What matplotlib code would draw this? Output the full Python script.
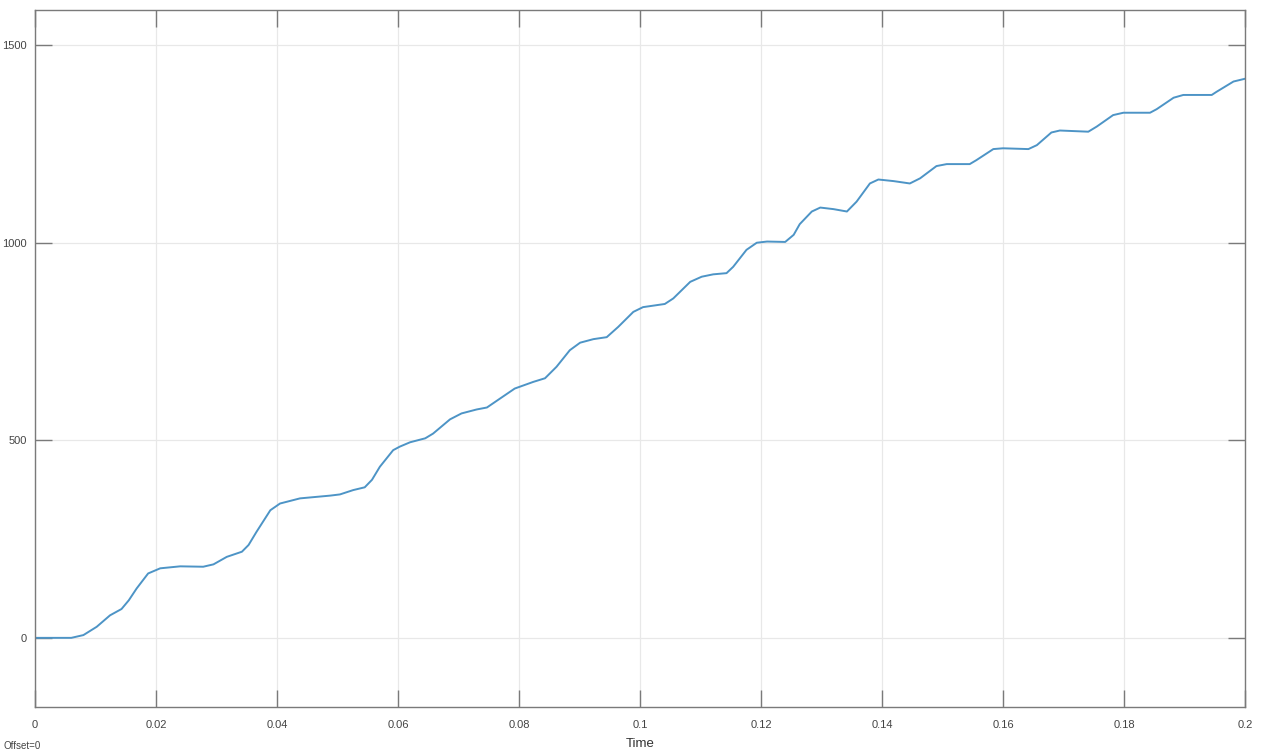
import matplotlib
matplotlib.use("Agg")
from matplotlib import pyplot as plt

# values
time = [0.0, 0.006, 0.008, 0.0102, 0.0124, 0.0143, 0.0155, 0.0168, 0.0187, 0.0207,
        0.024, 0.0278, 0.0295, 0.0317, 0.0342, 0.0353, 0.0366, 0.0389, 0.0405, 0.0438,
        0.0488, 0.0504, 0.0526, 0.0545, 0.0557, 0.057, 0.0592, 0.0603, 0.062, 0.0645,
        0.0658, 0.0686, 0.0705, 0.073, 0.0747, 0.0769, 0.0793, 0.0824, 0.0843, 0.0862,
        0.0884, 0.0901, 0.0923, 0.0945, 0.0964, 0.0989, 0.1005, 0.1041, 0.1055, 0.1083,
        0.1102, 0.1121, 0.1143, 0.1154, 0.1176, 0.1193, 0.121, 0.124, 0.1254, 0.1264,
        0.1284, 0.1298, 0.132, 0.1342, 0.1358, 0.138, 0.1394, 0.1419, 0.1446, 0.1463,
        0.149, 0.1507, 0.1545, 0.1556, 0.1584, 0.16, 0.1642, 0.1656, 0.168, 0.1694,
        0.1741, 0.1755, 0.1782, 0.1799, 0.1843, 0.1854, 0.1882, 0.1898, 0.1945, 0.1953,
        0.1981, 0.2]
value = [0, 0, 7, 28, 57, 73, 95, 125, 163, 176,
         181, 180, 186, 205, 218, 235, 268, 323, 340, 353,
         360, 363, 374, 381, 400, 433, 475, 484, 495, 505,
         517, 553, 568, 578, 583, 606, 631, 648, 657, 686,
         728, 747, 756, 761, 787, 825, 837, 845, 859, 901,
         914, 920, 923, 939, 982, 1000, 1003, 1002, 1020, 1047,
         1079, 1089, 1085, 1079, 1104, 1150, 1160, 1156, 1150, 1163,
         1194, 1199, 1199, 1209, 1237, 1239, 1237, 1247, 1279, 1284,
         1281, 1294, 1323, 1329, 1329, 1338, 1367, 1374, 1374, 1382,
         1408, 1415]

xticks = [0, 0.02, 0.04, 0.06, 0.08, 0.1, 0.12, 0.14, 0.16, 0.18, 0.2]
xticklabels = ['0', '0.02', '0.04', '0.06', '0.08', '0.1', '0.12', '0.14', '0.16', '0.18', '0.2']
yticks = [0, 500, 1000, 1500]

plt.rcParams['font.family'] = ['Liberation Sans', 'DejaVu Sans']

fig = plt.figure(figsize=(12.63, 7.52), dpi=100)
ax = fig.add_axes([35 / 1263, 45 / 752, 1210 / 1263, 697 / 752])

ax.plot(time, value, color='#4d94c6', linewidth=1.4, solid_joinstyle='round')

ax.set_xlim(0, 0.2)
ax.set_ylim(-175, 1589)
ax.set_xticks(xticks)
ax.set_xticklabels(xticklabels)
ax.set_yticks(yticks)

ax.grid(True, color='#e8e8e8', linewidth=0.9)
ax.set_axisbelow(True)
for s in ax.spines.values():
    s.set_color('#7a7a7a')
    s.set_linewidth(1.0)
ax.tick_params(direction='in', length=12, width=1, color='#7a7a7a',
               labelsize=8, labelcolor='#444444', top=True, right=True, pad=9)
ax.tick_params(axis='y', pad=6)

ax.set_xlabel('Time', fontsize=9.5, color='#333333', labelpad=6)
fig.text(4 / 1263, 1 - 746 / 752, 'Offset=0', fontsize=7, color='#444444', va='center')

fig.savefig('out.png', dpi=100)
